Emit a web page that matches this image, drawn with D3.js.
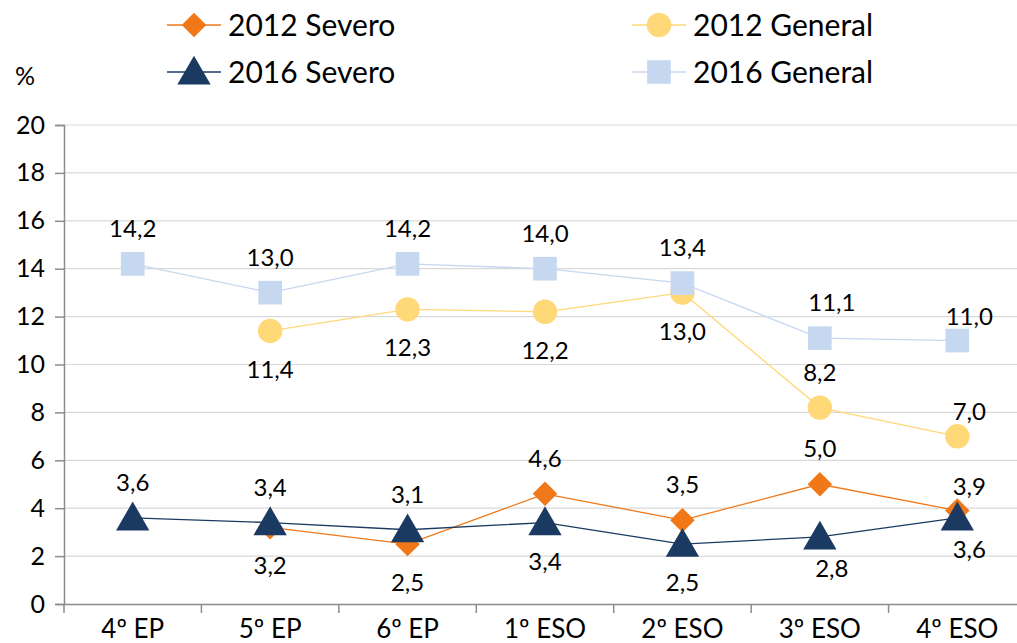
<!DOCTYPE html>
<html>
<head>
<meta charset="utf-8">
<script src="https://cdn.jsdelivr.net/npm/d3@7"></script>
<style>
  body { margin: 0; background: #fff; }
  svg { font-family: Lato, "Open Sans", sans-serif; }
</style>
</head>
<body>
<svg width="1017" height="643"></svg>
<script>
var categories = ["4º EP", "5º EP", "6º EP", "1º ESO", "2º ESO", "3º ESO", "4º ESO"];
var severo2012 = [null, 3.2, 2.5, 4.6, 3.5, 5.0, 3.9];
var general2012 = [null, 11.4, 12.3, 12.2, 13.0, 8.2, 7.0];
var severo2016 = [3.6, 3.4, 3.1, 3.4, 2.5, 2.8, 3.6];
var general2016 = [14.2, 13.0, 14.2, 14.0, 13.4, 11.1, 11.0];
var yTicks = [0, 2, 4, 6, 8, 10, 12, 14, 16, 18, 20];

// label placement: a = above, b = below, r = shifted right, c = close to the marker
var pos2012S = ["", "b", "b", "a", "a", "a", "arc"];
var pos2012G = ["", "b", "b", "b", "b", "a", "arc"];
var pos2016S = ["a", "a", "a", "b", "b", "brc", "brc"];
var pos2016G = ["a", "a", "a", "a", "a", "ar", "arc"];

var svg = d3.select("svg");
var plotLeft = 64, plotRight = 1026, plotTop = 125, plotBottom = 604;

var x = d3.scaleBand().domain(categories).range([plotLeft, plotRight]);
var y = d3.scaleLinear().domain([0, 20]).range([plotBottom, plotTop]);

// grid
svg.append("g").selectAll("line").data(yTicks.slice(1)).enter().append("line")
    .attr("x1", plotLeft).attr("x2", 1017)
    .attr("y1", d => y(d)).attr("y2", d => y(d))
    .attr("stroke", "#d9d9d9").attr("stroke-width", 1.2);

var yAxis = svg.append("g").attr("transform", "translate(" + plotLeft + ",0)")
    .call(d3.axisLeft(y).tickValues(yTicks).tickSize(9).tickPadding(10));
yAxis.select(".domain").attr("stroke", "#8c8c8c").attr("stroke-width", 1.5);
yAxis.selectAll(".tick line").attr("stroke", "#8c8c8c").attr("stroke-width", 1.5);
yAxis.selectAll("text").attr("font-size", 25).attr("fill", "#000").attr("font-family", "Lato");

var xAxis = svg.append("g").attr("transform", "translate(0," + plotBottom + ")")
    .call(d3.axisBottom(x).tickSize(0).tickPadding(16));
xAxis.select(".domain").attr("stroke", "#8c8c8c").attr("stroke-width", 1.5);
xAxis.selectAll("text").attr("font-size", 26).attr("fill", "#000").attr("font-family", "Lato");
xAxis.selectAll(".bound").data(categories).enter().append("line")
    .attr("x1", d => x(d)).attr("x2", d => x(d))
    .attr("y1", 0).attr("y2", 9)
    .attr("stroke", "#8c8c8c").attr("stroke-width", 1.5);

svg.append("text").attr("x", 15).attr("y", 85).attr("font-size", 25).text("%");

var cx = d => x(d) + x.bandwidth() / 2;

var series = [
  { name: "2012 Severo", values: severo2012, pos: pos2012S, color: "#f07818", sym: "diamond", size: 300 },
  { name: "2012 General", values: general2012, pos: pos2012G, color: "#ffd878", sym: "circle", size: 470 },
  { name: "2016 Severo", values: severo2016, pos: pos2016S, color: "#1b3a62", sym: "triangle", size: 480 },
  { name: "2016 General", values: general2016, pos: pos2016G, color: "#c6d8f0", sym: "square", size: 560 }
];

function marker(sel, s) {
  if (s.sym === "diamond") {
    sel.append("path").attr("d", d3.symbol().type(d3.symbolSquare).size(s.size)())
       .attr("transform", "rotate(45)").attr("fill", s.color);
  } else if (s.sym === "circle") {
    sel.append("path").attr("d", d3.symbol().type(d3.symbolCircle).size(s.size)()).attr("fill", s.color);
  } else if (s.sym === "triangle") {
    sel.append("path").attr("d", d3.symbol().type(d3.symbolTriangle).size(s.size)())
       .attr("transform", "translate(0,3)").attr("fill", s.color);
  } else {
    sel.append("path").attr("d", d3.symbol().type(d3.symbolSquare).size(s.size)()).attr("fill", s.color);
  }
}

function labelDy(p) {
  var close = p.indexOf("c") >= 0;
  if (p[0] === "a") return close ? -16 : -27;
  return close ? 40 : 47;
}

var line = d3.line().defined(d => d.v != null).x(d => cx(d.c)).y(d => y(d.v));

series.forEach(function (s) {
  var pts = categories.map((c, i) => ({ c: c, v: s.values[i], p: s.pos[i] }));
  svg.append("path").datum(pts).attr("d", line)
     .attr("fill", "none").attr("stroke", s.color).attr("stroke-width", 1.3);
  s.pts = pts;
});

series.forEach(function (s) {
  s.pts.filter(d => d.v != null).forEach(function (d) {
    var g = svg.append("g").attr("transform", "translate(" + cx(d.c) + "," + y(d.v) + ")");
    marker(g, s);
  });
});

series.forEach(function (s) {
  svg.append("g").selectAll("text").data(s.pts.filter(d => d.v != null)).enter().append("text")
    .attr("x", d => cx(d.c) + (d.p.indexOf("r") >= 0 ? 12 : 0))
    .attr("y", d => y(d.v) + labelDy(d.p))
    .attr("text-anchor", "middle").attr("font-size", 24).attr("fill", "#000")
    .text(d => d3.format(".1f")(d.v).replace(".", ","));
});

// legend
var legendPos = [[167, 25], [632, 25], [167, 72], [632, 72]];
series.forEach(function (s, i) {
  var lx = legendPos[i][0], ly = legendPos[i][1];
  var g = svg.append("g").attr("transform", "translate(" + lx + "," + ly + ")");
  g.append("line").attr("x1", 0).attr("x2", 54).attr("stroke", s.color).attr("stroke-width", 1.3);
  var m = g.append("g").attr("transform", "translate(27,0)");
  marker(m, s);
  g.append("text").attr("x", 61).attr("y", 11).attr("font-size", 30).text(s.name);
});
</script>
</body>
</html>
